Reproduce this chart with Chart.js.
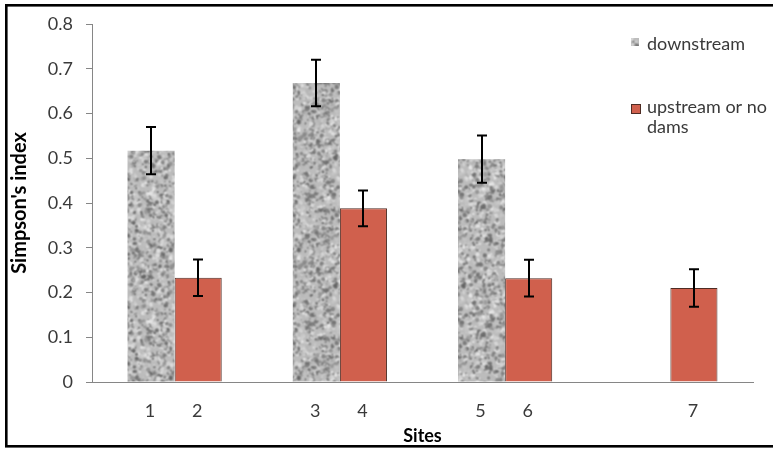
<!DOCTYPE html>
<html><head><meta charset="utf-8">
<script src="https://cdn.jsdelivr.net/npm/chart.js@4/dist/chart.umd.min.js"></script>
<style>html,body{margin:0;padding:0;background:#fff;}canvas{display:block}</style>
</head><body><canvas id="c" width="773" height="449"></canvas>
<script>
// ---- data ----
const groups = ['g1', 'g2', 'g3', 'g4'];
const downstreamSites = ['1', '3', '5', ''];
const upstreamSites = ['2', '4', '6', '7'];
const downstreamValues = [0.517, 0.668, 0.498, null];
const downstreamErrors = [0.053, 0.052, 0.053, null];
const upstreamValues = [0.233, 0.388, 0.232, 0.210];
const upstreamErrors = [0.041, 0.040, 0.041, 0.042];
const yTickLabels = ['0', '0.1', '0.2', '0.3', '0.4', '0.5', '0.6', '0.7', '0.8'];
const seriesNames = ['downstream', 'upstream or no dams'];
const legendLines = [['downstream'], ['upstream or no', 'dams']];
const xTitle = 'Sites';
const yTitle = "Simpson's index";

const RED = '#D0604D';
const FONT = 'Lato, Carlito, "Open Sans", sans-serif';

// granite-like texture (styling only, seeded)
function makeGranite() {
  let s = 4242;
  const rnd = () => { s |= 0; s = s + 0x6D2B79F5 | 0; let t = Math.imul(s ^ s >>> 15, 1 | s); t = t + Math.imul(t ^ t >>> 7, 61 | t) ^ t; return ((t ^ t >>> 14) >>> 0) / 4294967296; };
  const S = 128;
  const a = document.createElement('canvas'); a.width = S; a.height = S;
  const ax = a.getContext('2d');
  ax.fillStyle = 'rgb(188,188,188)'; ax.fillRect(0, 0, S, S);
  for (let i = 0; i < 2600; i++) {
    const x = rnd() * S, y = rnd() * S, r = 0.7 + rnd() * 1.6;
    const dark = rnd() < 0.4;
    const g = Math.round(dark ? 90 + rnd() * 55 : 178 + rnd() * 60);
    ax.fillStyle = 'rgba(' + g + ',' + g + ',' + g + ',0.75)';
    for (const dx of [-S, 0, S]) for (const dy of [-S, 0, S]) {
      ax.beginPath(); ax.arc(x + dx, y + dy, r, 0, Math.PI * 2); ax.fill();
    }
  }
  // seamless manual blur (wraparound 3x3 kernel)
  const src = ax.getImageData(0, 0, S, S).data;
  const out = ax.createImageData(S, S);
  const K = [1, 2, 1, 2, 4, 2, 1, 2, 1];
  for (let y = 0; y < S; y++) for (let x = 0; x < S; x++) {
    let sum = 0, k = 0;
    for (let dy = -1; dy <= 1; dy++) for (let dx = -1; dx <= 1; dx++) {
      const xx = (x + dx + S) % S, yy = (y + dy + S) % S;
      sum += src[(yy * S + xx) * 4] * K[k++];
    }
    const v = sum / 16, p = (y * S + x) * 4;
    out.data[p] = out.data[p + 1] = out.data[p + 2] = v; out.data[p + 3] = 255;
  }
  ax.putImageData(out, 0, 0);
  return ax.createPattern(a, 'repeat');
}

const errorBars = {
  id: 'errorBars',
  afterDatasetsDraw(chart) {
    const ctx = chart.ctx, y = chart.scales.y;
    const errs = [downstreamErrors, upstreamErrors];
    chart.data.datasets.forEach((ds, di) => {
      chart.getDatasetMeta(di).data.forEach((bar, i) => {
        const v = ds.data[i], e = errs[di][i];
        if (v == null || e == null) return;
        const x = Math.round(bar.x), yt = y.getPixelForValue(v + e), yb = y.getPixelForValue(v - e);
        ctx.save(); ctx.strokeStyle = '#000'; ctx.lineWidth = 2;
        ctx.beginPath(); ctx.moveTo(x, yt); ctx.lineTo(x, yb);
        ctx.moveTo(x - 5, yt); ctx.lineTo(x + 5, yt);
        ctx.moveTo(x - 5, yb); ctx.lineTo(x + 5, yb);
        ctx.stroke(); ctx.restore();
      });
    });
  }
};

const siteLabels = {
  id: 'siteLabels',
  afterDraw(chart) {
    const ctx = chart.ctx, xs = chart.scales.x;
    const labs = [downstreamSites, upstreamSites];
    ctx.save(); ctx.font = '18px ' + FONT; ctx.fillStyle = '#3a3a3a';
    ctx.textAlign = 'center'; ctx.textBaseline = 'middle';
    chart.data.datasets.forEach((ds, di) => {
      chart.getDatasetMeta(di).data.forEach((bar, i) => {
        if (ds.data[i] == null || !labs[di][i]) return;
        ctx.fillText(labs[di][i], bar.x - 1, xs.top + 29);
      });
    });
    ctx.restore();
  }
};

const customLegend = {
  id: 'customLegend',
  afterDraw(chart) {
    const ctx = chart.ctx;
    ctx.save(); ctx.font = '18px ' + FONT; ctx.textBaseline = 'alphabetic';
    const ds = chart.data.datasets;
    ctx.fillStyle = ds[0].backgroundColor; ctx.fillRect(631, 38, 8, 8);
    ctx.fillStyle = '#3a3a3a';
    legendLines[0].forEach((t, j) => ctx.fillText(t, 647, 50 + j * 20));
    ctx.fillStyle = ds[1].backgroundColor; ctx.fillRect(631, 104.5, 9, 9);
    ctx.strokeStyle = ds[1].borderColor; ctx.lineWidth = 1; ctx.strokeRect(631.5, 104.5, 9, 9);
    ctx.fillStyle = '#3a3a3a';
    legendLines[1].forEach((t, j) => ctx.fillText(t, 647, 113 + j * 20));
    ctx.restore();
  }
};

const frame = {
  id: 'frame',
  afterDraw(chart) {
    const ctx = chart.ctx; ctx.save(); ctx.strokeStyle = '#000'; ctx.lineWidth = 2.6;
    ctx.strokeRect(6.3, 5.3, 820, 441); ctx.restore();
  }
};

function build() {
  const granite = makeGranite();
  new Chart(document.getElementById('c'), {
    type: 'bar',
    data: {
      labels: groups,
      datasets: [
        { label: seriesNames[0], data: downstreamValues, backgroundColor: granite, borderWidth: 0, categoryPercentage: 0.57, barPercentage: 1.0 },
        { label: seriesNames[1], data: upstreamValues, backgroundColor: RED, borderColor: '#4e2c24', borderWidth: 1, categoryPercentage: 0.57, barPercentage: 1.0 }
      ]
    },
    options: {
      responsive: false, animation: false, devicePixelRatio: 1,
      layout: { padding: { top: 24, right: 20, bottom: 0, left: 0 } },
      plugins: { legend: { display: false }, tooltip: { enabled: false } },
      scales: {
        x: {
          grid: { display: false },
          border: { color: '#868686', width: 1 },
          ticks: { display: false },
          title: { display: true, text: xTitle, color: '#000', font: { family: FONT, size: 18, weight: 'bold' }, padding: { top: 0, bottom: 2 } },
          afterFit: s => { s.height = 67; }
        },
        y: {
          min: 0, max: 0.8,
          ticks: { stepSize: 0.1, padding: 13, color: '#3a3a3a', font: { family: FONT, size: 18 }, callback: (v, i) => yTickLabels[i] },
          grid: { drawOnChartArea: false, drawTicks: true, tickLength: 6, color: '#868686' },
          border: { color: '#868686', width: 1 },
          title: { display: true, text: yTitle, color: '#000', font: { family: FONT, size: 20, weight: 'bold' }, padding: { top: 8, bottom: 0 } },
          afterFit: s => { s.width = 92; }
        }
      }
    },
    plugins: [errorBars, siteLabels, customLegend, frame]
  });
}
Promise.all([document.fonts.load('18px Lato'), document.fonts.load('bold 18px Lato')]).then(build, build);
</script>
</body></html>
